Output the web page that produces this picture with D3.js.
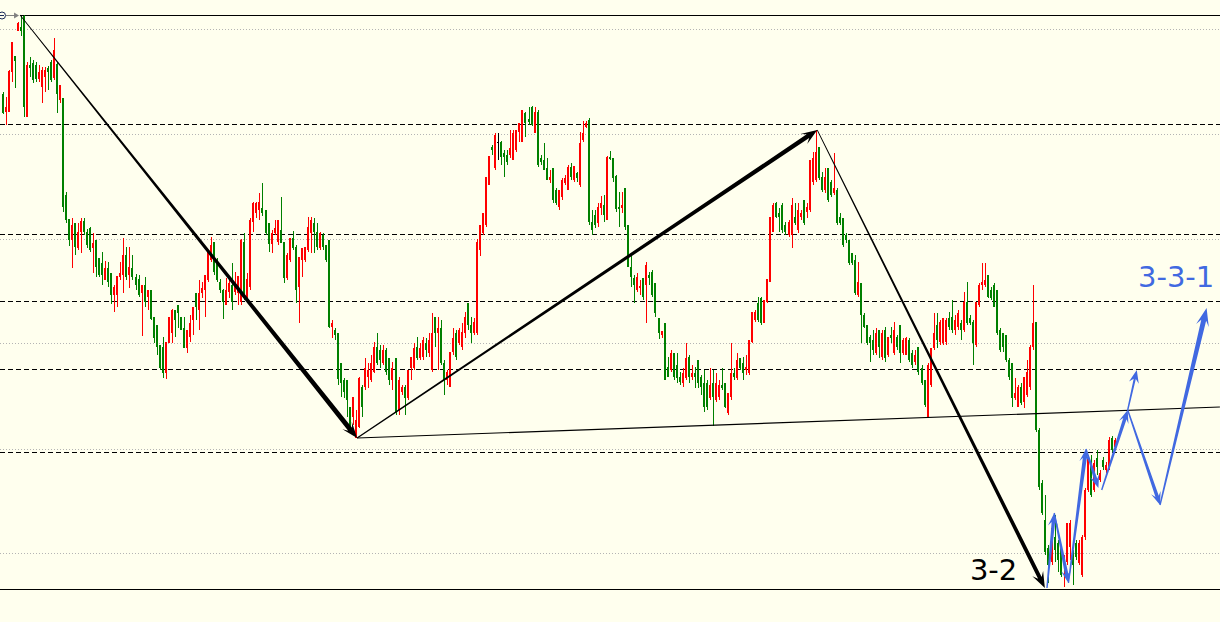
<!DOCTYPE html>
<html><head><meta charset="utf-8">
<script src="https://cdn.jsdelivr.net/npm/d3@7"></script>
<style>html,body{margin:0;padding:0;background:#ffffee;}svg{display:block}</style>
</head><body>
<svg id="chart" width="1220" height="622"></svg>
<script>
// ---- OHLC data (price units) ----
const opens = [
506,488,488,528,544,569,573,584,483,535,
537,535,521,513,523,532,538,522,536,500,
502,405,381,360,377,352,368,379,368,372,352,
360,342,337,320,332,327,305,305,323,325,
345,325,332,323,321,307,315,303,310,283,275,
255,253,227,257,267,290,295,283,272,252,
263,280,307,290,307,310,320,340,358,337,
318,310,295,308,315,308,307,298,358,303,
313,378,387,390,392,390,377,356,367,358,
370,358,322,340,362,353,313,340,340,350,
367,377,368,352,365,355,360,273,270,267,
237,220,220,193,183,162,173,213,213,223,
220,228,253,250,237,250,242,220,242,190,
208,213,202,232,232,253,242,243,257,247,
230,283,267,272,237,220,213,248,267,257,
253,267,297,275,267,267,350,367,375,415,
453,432,458,458,447,445,445,440,450,468,
458,487,481,493,467,488,442,440,432,420,
432,410,393,403,417,410,433,420,427,415,
460,473,480,378,385,377,392,395,380,443,
442,424,393,392,412,375,333,322,310,312,
322,315,325,328,317,282,265,277,233,230,
247,235,223,217,222,243,223,227,240,223,
217,217,202,217,200,203,215,217,187,203,
227,222,242,237,230,227,258,280,297,302,
277,298,318,368,397,387,395,375,365,365,
383,370,383,400,388,390,418,420,453,423,
410,432,418,407,410,383,382,365,360,347,
340,305,317,285,275,263,260,247,270,243,
270,245,265,247,263,275,247,245,260,247,
238,253,232,220,182,215,252,275,258,257,
258,282,283,270,273,277,270,298,282,278,
255,295,315,315,325,310,315,310,270,267,
265,240,237,202,193,213,198,205,213,253,
278,170,117,80,52,38,63,57,53,37,
38,53,47,57,37,25,63,110,137,110,
142,120,140,130,133,162,153];
const highs = [
508,503,530,558,544,578,584,585,538,543,
540,538,535,533,533,534,540,562,538,515,
502,408,381,382,377,377,382,382,371,373,367,
360,342,348,339,338,327,315,324,338,362,
353,353,345,326,325,315,323,310,310,283,275,
255,263,258,283,291,290,295,283,283,270,
285,293,307,320,318,325,350,363,358,342,
321,311,322,323,337,328,324,361,367,327,
382,398,398,407,417,390,377,370,380,380,
403,358,347,362,369,355,343,352,353,383,
383,382,377,368,367,355,360,280,272,267,
237,222,220,193,203,190,223,215,242,237,
245,258,267,255,255,252,242,238,242,223,
215,215,230,243,257,263,257,263,262,267,
287,283,283,280,240,230,248,272,270,272,
277,288,297,283,282,361,375,387,423,444,
455,467,467,459,450,450,470,470,470,477,
490,488,493,494,493,490,445,457,442,430,
432,412,410,422,425,435,437,434,428,468,
479,479,482,390,390,397,404,405,444,449,
442,425,408,408,412,375,345,325,327,320,
322,338,328,330,317,282,269,277,243,250,
247,247,228,232,257,245,235,233,240,225,
230,220,232,230,227,220,232,217,207,257,
232,247,242,243,245,260,288,290,303,303,
300,321,383,397,398,392,397,378,380,402,
397,397,390,400,397,440,448,470,453,428,
432,432,420,447,412,387,382,367,360,347,
345,338,317,287,275,265,270,272,270,270,
273,263,273,278,265,275,262,263,262,250,
250,253,235,220,237,252,287,287,280,282,
282,288,300,285,290,280,308,318,285,280,
298,317,337,337,325,313,317,310,272,267,
265,242,237,222,215,217,223,240,255,315,
278,172,120,105,55,75,85,60,55,45,
77,80,50,60,60,65,112,145,145,140,
150,130,143,138,163,164,162];
const lows = [
486,475,488,518,512,569,564,483,483,523,
517,518,518,497,508,510,518,520,487,497,
388,377,354,332,345,350,347,365,352,348,327,
323,323,315,320,313,296,288,293,320,307,
320,312,320,310,303,264,293,290,280,257,245,
230,222,221,257,257,263,272,270,252,247,
258,265,280,270,302,283,318,338,325,318,
307,281,295,302,290,305,295,295,300,302,
310,368,382,380,384,365,348,347,365,355,
357,317,320,338,350,297,277,323,338,348,
347,347,350,350,350,338,272,262,260,215,
203,202,183,167,175,162,172,183,210,212,
218,227,235,232,235,225,215,210,185,185,
205,185,200,220,230,240,240,240,243,243,
228,253,230,235,205,215,213,245,240,255,
250,262,270,257,265,265,344,365,373,415,
445,430,440,435,423,435,442,440,448,458,
458,463,475,474,467,433,435,430,420,417,
397,395,390,400,415,410,420,418,418,413,
458,472,375,365,372,373,385,378,380,440,
418,388,373,387,370,333,313,297,308,305,
300,277,315,303,283,261,262,220,223,228,
220,217,215,213,220,217,220,212,212,205,
188,190,200,174,198,200,210,192,185,200,
220,220,230,220,225,225,257,278,278,275,
277,297,318,368,382,368,367,365,363,352,
375,367,380,375,382,388,415,418,420,408,
407,398,403,405,375,375,353,357,335,335,
305,303,257,272,255,238,245,245,242,240,
238,243,257,245,250,237,245,245,238,232,
235,225,215,193,182,213,250,252,255,255,
255,270,267,265,270,260,268,275,275,235,
253,293,310,313,302,300,293,265,248,248,
238,220,193,200,193,195,192,203,210,250,
168,110,85,45,17,35,38,28,23,13,
35,40,15,40,35,23,60,108,103,108,
125,118,130,127,130,148,150];
const closes = [
487,493,529,558,539,577,569,493,535,532,
520,521,528,530,530,528,520,550,506,515,
393,380,360,375,353,368,379,368,355,350,357,
333,325,325,332,318,305,313,324,327,345,
323,333,323,315,305,315,298,310,281,262,253,
232,227,258,283,290,280,287,270,252,270,
277,293,293,307,312,325,348,355,328,320,
310,298,310,317,298,315,324,360,302,321,
380,397,397,398,387,367,356,367,372,380,
357,322,345,362,352,310,343,352,353,373,
380,368,353,367,353,340,273,277,265,221,
217,208,200,173,203,180,222,193,232,230,
237,253,237,240,250,228,220,232,187,220,
213,202,230,243,252,242,252,260,250,260,
267,267,272,237,220,228,248,262,243,270,
268,283,275,267,278,358,375,387,423,444,
450,465,458,443,443,438,452,467,470,477,
490,477,478,475,488,435,438,430,420,423,
400,397,410,420,422,433,423,434,422,457,
467,477,378,370,375,393,397,385,443,441,
422,391,391,395,373,333,323,315,323,314,
303,335,322,305,287,267,269,220,223,247,
223,222,218,227,242,223,227,223,217,213,
193,193,215,203,217,215,212,193,207,227,
223,240,232,227,233,260,288,288,280,277,
300,321,383,395,383,383,370,368,378,395,
377,390,387,377,393,440,442,448,422,410,
423,400,405,412,377,377,355,360,337,337,
307,318,285,273,257,257,250,267,253,267,
242,263,262,270,253,247,260,262,240,235,
245,228,217,195,235,252,267,260,278,282,
280,273,270,280,287,270,298,277,277,257,
298,315,318,320,303,302,293,267,250,253,
240,223,202,207,213,197,223,228,253,277,
170,113,87,48,35,72,50,40,25,43,
77,77,35,43,57,63,110,142,105,137,
133,127,133,135,160,150,160];

// ---- horizontal levels ----
const dashedLevels = [475.5, 366.3, 298.7, 230.7, 148];
const dottedLevels = [570.7, 465.7, 360.7, 256.7, 151, 47];
const topLevel = 585;
const bottomLevel = 11.5;

// ---- trend line (neckline) ----
const trendIdx = [117.3, 402.7];
const trendPrice = [162, 193];

// ---- black swing arrows ----
const swingIdx = [5.8, 117.3, 269.5, 344.8];
const swingPrice = [585, 162, 470, 12];

// ---- blue projected wave arrows ----
const waveFromIdx   = [345.5, 347.9, 352.6, 358.4, 363.6, 372.2, 372.2, 382.9];
const waveFromPrice = [12,    87,    17,    151,   110,   190,   190,   95];
const waveToIdx     = [347.9, 352.6, 358.4, 362.5, 372.2, 375.2, 382.9, 398.3];
const waveToPrice   = [87,    17,    151,   112,   190,   230,   95,    292];
const waveWidth     = [3.5,   3.5,   4,     3.5,   3.5,   2.2,   3.5,   5];

// ---- labels ----
const labelText  = ["3-2", "3-3-1"];
const labelIdx   = [320.0, 375.6];
const labelPrice = [20, 313];
const labelColor = ["#000000", "#4169e1"];

const W = 1220, H = 622;
const n = opens.length;
const svg = d3.select("#chart");
svg.append("rect").attr("width", W).attr("height", H).attr("fill", "#ffffee");

const x = d3.scaleLinear().domain([0, n - 1]).range([2.5, 1115]);
const y = d3.scaleLinear().domain([12, 585]).range([588, 15]);

// grid
svg.selectAll(".dot").data(dottedLevels).join("line")
  .attr("x1", 0).attr("x2", W)
  .attr("y1", d => Math.round(y(d)) + 0.5).attr("y2", d => Math.round(y(d)) + 0.5)
  .attr("stroke", "#b4b4b4").attr("stroke-width", 1).attr("stroke-dasharray", "1,2");
svg.selectAll(".dash").data(dashedLevels).join("line")
  .attr("x1", 0).attr("x2", W)
  .attr("y1", d => Math.round(y(d)) + 0.5).attr("y2", d => Math.round(y(d)) + 0.5)
  .attr("stroke", "#000").attr("stroke-width", 1).attr("stroke-dasharray", "5,3");
svg.append("line").attr("x1", x(swingIdx[0])).attr("x2", W)
  .attr("y1", Math.round(y(topLevel)) + 0.5).attr("y2", Math.round(y(topLevel)) + 0.5)
  .attr("stroke", "#000").attr("stroke-width", 1);
svg.append("line").attr("x1", 0).attr("x2", W)
  .attr("y1", Math.round(y(bottomLevel)) + 0.5).attr("y2", Math.round(y(bottomLevel)) + 0.5)
  .attr("stroke", "#000").attr("stroke-width", 1);

// top-left marker icon
const ty = Math.round(y(topLevel)) + 0.5;
const tx = x(swingIdx[0]);
svg.append("circle").attr("cx", 2).attr("cy", ty).attr("r", 3.5)
  .attr("fill", "#ffffee").attr("stroke", "#1a2a5a").attr("stroke-width", 1);
svg.append("line").attr("x1", 0).attr("x2", 4).attr("y1", ty).attr("y2", ty).attr("stroke", "#1a2a5a");
svg.append("line").attr("x1", 6).attr("x2", tx - 3).attr("y1", ty).attr("y2", ty)
  .attr("stroke", "#808080").attr("stroke-width", 1);
svg.append("path")
  .attr("d", `M${tx - 1},${ty} L${tx - 6},${ty - 3} L${tx - 6},${ty + 3}Z`)
  .attr("fill", "#808080");

// candles
const idx = d3.range(n);
const colorOf = i => closes[i] > opens[i] ? "#ff0000" : (closes[i] < opens[i] ? "#008000" : "#000000");
const hiOf = i => Math.max(highs[i], opens[i], closes[i]);
const loOf = i => Math.min(lows[i], opens[i], closes[i]);
const cg = svg.append("g").attr("shape-rendering", "crispEdges");
cg.selectAll(".wick").data(idx).join("rect")
  .attr("x", i => Math.round(x(i)))
  .attr("width", 1)
  .attr("y", i => Math.round(y(hiOf(i))))
  .attr("height", i => Math.max(1, Math.round(y(loOf(i))) - Math.round(y(hiOf(i)))))
  .attr("fill", colorOf);
cg.selectAll(".body").data(idx).join("rect")
  .attr("x", i => Math.round(x(i)) - 1)
  .attr("width", 2)
  .attr("y", i => Math.round(y(Math.max(opens[i], closes[i]))))
  .attr("height", i => Math.max(1, Math.round(y(Math.min(opens[i], closes[i]))) - Math.round(y(Math.max(opens[i], closes[i])))))
  .attr("fill", colorOf);

// neckline
svg.append("line")
  .attr("x1", x(trendIdx[0])).attr("y1", y(trendPrice[0]))
  .attr("x2", x(trendIdx[1])).attr("y2", y(trendPrice[1]))
  .attr("stroke", "#000").attr("stroke-width", 1.2);

// tapered arrow helper
function arrow(p0, p1, w0, w1, headLen, headW, color) {
  const dx = p1[0] - p0[0], dy = p1[1] - p0[1], L = Math.hypot(dx, dy);
  const ux = dx / L, uy = dy / L, nx = -uy, ny = ux;
  const bx = p1[0] - ux * headLen, by = p1[1] - uy * headLen;
  const sx = p1[0] - ux * headLen * 0.7, sy = p1[1] - uy * headLen * 0.7;
  const pts = [
    [p0[0] + nx * w0 / 2, p0[1] + ny * w0 / 2],
    [sx + nx * w1 / 2, sy + ny * w1 / 2],
    [bx + nx * headW / 2, by + ny * headW / 2],
    [p1[0], p1[1]],
    [bx - nx * headW / 2, by - ny * headW / 2],
    [sx - nx * w1 / 2, sy - ny * w1 / 2],
    [p0[0] - nx * w0 / 2, p0[1] - ny * w0 / 2]
  ];
  svg.append("path").attr("d", d3.line()(pts) + "Z").attr("fill", color);
}

// black swing arrows
const swW0 = [0.8, 1.2, 0.8], swW1 = [5, 4.5, 4];
for (let k = 0; k < swingIdx.length - 1; k++) {
  arrow([x(swingIdx[k]), y(swingPrice[k])], [x(swingIdx[k + 1]), y(swingPrice[k + 1])],
        swW0[k], swW1[k], 16, 12, "#000");
}

// blue wave arrows
for (let k = 0; k < waveFromIdx.length; k++) {
  const big = waveWidth[k] >= 5;
  arrow([x(waveFromIdx[k]), y(waveFromPrice[k])], [x(waveToIdx[k]), y(waveToPrice[k])],
        1.4, waveWidth[k], big ? 18 : 13, big ? 13 : 10, "#4169e1");
}

// labels
svg.selectAll(".lbl").data(labelText).join("text")
  .attr("x", (d, i) => x(labelIdx[i]))
  .attr("y", (d, i) => y(labelPrice[i]))
  .attr("font-family", "DejaVu Sans, Verdana, sans-serif")
  .attr("font-size", 29)
  .attr("fill", (d, i) => labelColor[i])
  .text(d => d);
</script>
</body></html>
